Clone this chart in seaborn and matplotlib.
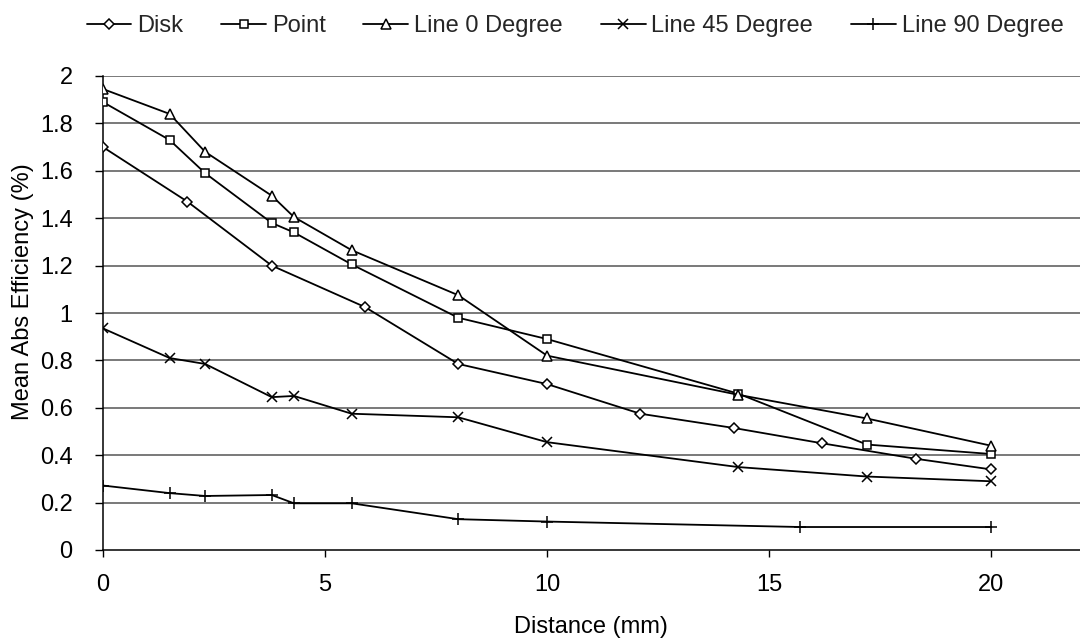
import matplotlib
matplotlib.use("Agg")
import matplotlib.pyplot as plt
import seaborn as sns
import pandas as pd

sns.set_theme(style="white")
plt.rcParams['font.family'] = ['Liberation Sans', 'DejaVu Sans']

# ---- data ----
disk_x = [0, 1.9, 3.8, 5.9, 8.0, 10.0, 12.1, 14.2, 16.2, 18.3, 20.0]
disk_y = [1.70, 1.47, 1.20, 1.025, 0.785, 0.70, 0.575, 0.515, 0.45, 0.385, 0.34]

point_x = [0, 1.5, 2.3, 3.8, 4.3, 5.6, 8.0, 10.0, 14.3, 17.2, 20.0]
point_y = [1.89, 1.73, 1.59, 1.38, 1.34, 1.205, 0.98, 0.89, 0.66, 0.445, 0.405]

line0_x = [0, 1.5, 2.3, 3.8, 4.3, 5.6, 8.0, 10.0, 14.3, 17.2, 20.0]
line0_y = [1.945, 1.84, 1.68, 1.495, 1.405, 1.265, 1.075, 0.82, 0.655, 0.555, 0.44]

line45_x = [0, 1.5, 2.3, 3.8, 4.3, 5.6, 8.0, 10.0, 14.3, 17.2, 20.0]
line45_y = [0.935, 0.81, 0.785, 0.645, 0.65, 0.575, 0.56, 0.455, 0.35, 0.31, 0.29]

line90_x = [0, 1.5, 2.3, 3.8, 4.3, 5.6, 8.0, 10.0, 15.7, 20.0]
line90_y = [0.272, 0.24, 0.228, 0.232, 0.197, 0.197, 0.13, 0.12, 0.097, 0.097]

series_names = ["Disk", "Point", "Line 0 Degree", "Line 45 Degree", "Line 90 Degree"]
x_ticks = [0, 5, 10, 15, 20]
y_ticks = [0, 0.2, 0.4, 0.6, 0.8, 1.0, 1.2, 1.4, 1.6, 1.8, 2.0]

series = [
    (disk_x, disk_y, "D", 5.0),
    (point_x, point_y, "s", 5.8),
    (line0_x, line0_y, "^", 7.0),
    (line45_x, line45_y, "x", 7.5),
    (line90_x, line90_y, "+", 8.0),
]

FS = 17
W, H = 1080, 640
fig = plt.figure(figsize=(10.8, 6.4), dpi=100)
ax = fig.add_axes([103 / W, 1 - 550 / H, (W - 103) / W, (550 - 76) / H])

for name, (xs, ys, mk, ms) in zip(series_names, series):
    df = pd.DataFrame({"x": xs, "y": ys})
    sns.lineplot(data=df, x="x", y="y", ax=ax, color="black", linewidth=1.3,
                 marker=mk, markersize=ms, markerfacecolor="white",
                 markeredgecolor="black", markeredgewidth=1.1, label=name,
                 sort=False, zorder=3)

ax.set_xlim(0, 22)
ax.set_ylim(0, 2)
ax.set_xticks(x_ticks)
ax.set_yticks(y_ticks)
ax.set_yticklabels([f"{v:g}" for v in y_ticks])
ax.set_xticklabels([str(v) for v in x_ticks])

ax.grid(False)
for v in y_ticks[1:]:
    ax.axhline(v, color="#555555", linewidth=1.1, zorder=1)

for s in ["top", "right"]:
    ax.spines[s].set_visible(False)
for s in ["left", "bottom"]:
    ax.spines[s].set_color("black")
    ax.spines[s].set_linewidth(1.1)

ax.tick_params(axis="y", which="major", direction="out", length=5.8, width=1,
               color="black", labelsize=FS, labelcolor="black", pad=16, left=True)
ax.tick_params(axis="x", which="major", direction="out", length=5, width=1,
               color="black", labelsize=FS, labelcolor="black", pad=12, bottom=True)

ax.set_xlabel("")
ax.set_ylabel("")
fig.text(591 / W, 1 - 627 / H, "Distance (mm)", fontsize=FS, color="black",
         ha="center", va="center")
fig.text(23 / W, 1 - 292 / H, "Mean Abs Efficiency (%)", fontsize=FS, color="black",
         ha="center", va="center", rotation=90)

handles, labels = ax.get_legend_handles_labels()
ax.legend(handles, labels, loc="center", bbox_to_anchor=(575 / W, 1 - 26 / H),
          bbox_transform=fig.transFigure, ncol=5, frameon=False, fontsize=FS,
          handlelength=1.9, columnspacing=1.6, handletextpad=0.25, borderpad=0)

fig.savefig("out.png", dpi=100)
